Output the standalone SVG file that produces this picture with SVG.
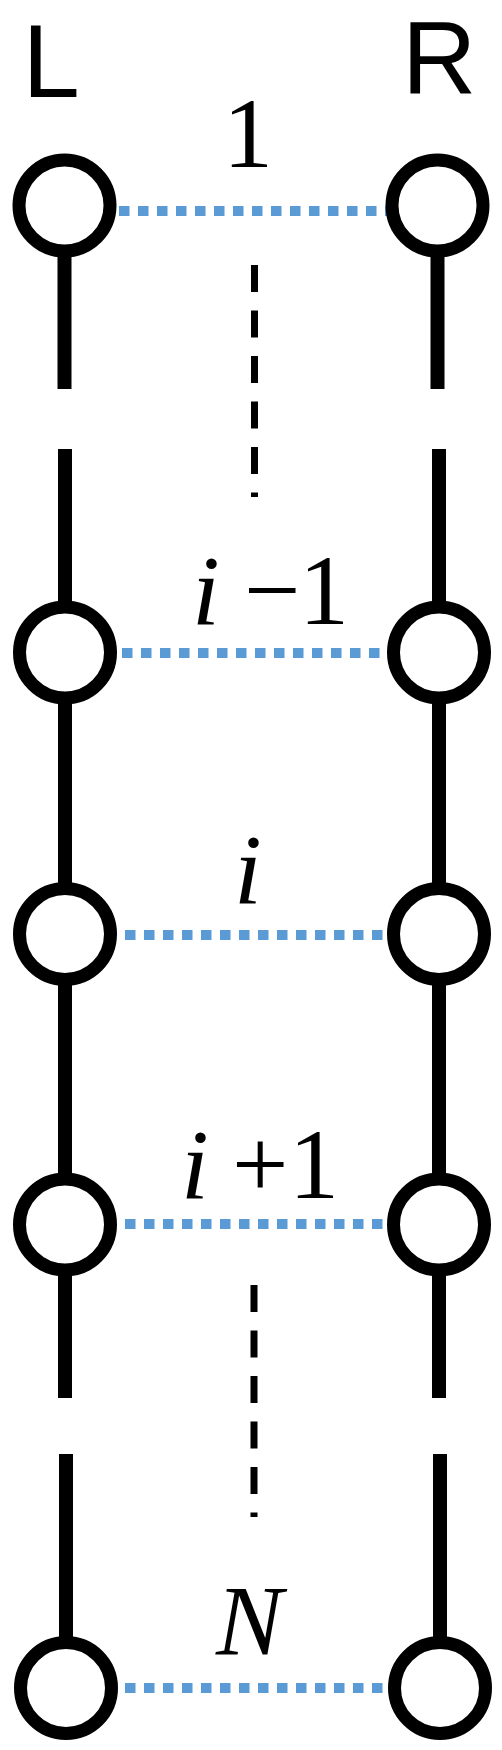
<svg xmlns="http://www.w3.org/2000/svg" width="502" height="1750" viewBox="0 0 502 1750">
<style>
.rail{stroke:#000;stroke-width:14;fill:none}
.link{stroke:#5B9BD5;stroke-width:10;stroke-dasharray:10.5 8.5;fill:none}
.dots{stroke:#000;stroke-width:7;stroke-dasharray:27 18.5;fill:none}
.node{fill:#fff;stroke:#000;stroke-width:13}
</style>
<rect width="502" height="1750" fill="#fff"/>
<g id="connectors">
<path class="rail" d="M64.5,205.5V389M65,449V1398M66,1454V1688"/>
<path class="rail" d="M437.5,205.5V389M439,449V1398M440,1454V1688"/>
<path class="dots" d="M254.5,265V497"/>
<path class="dots" d="M254,1285V1517"/>
<path class="link" d="M119,211H390"/>
<path class="link" d="M122,653H390"/>
<path class="link" d="M125,935H390"/>
<path class="link" d="M125,1224H390"/>
<path class="link" d="M125,1688H390"/>
</g>
<g id="node-L1"><circle class="node" cx="64.5" cy="205.5" r="45.5"/></g>
<g id="node-R1"><circle class="node" cx="437.5" cy="205.5" r="45.5"/></g>
<g id="node-Li-1"><circle class="node" cx="65" cy="652.5" r="45.5"/></g>
<g id="node-Ri-1"><circle class="node" cx="439" cy="652.5" r="45.5"/></g>
<g id="node-Li"><circle class="node" cx="65" cy="934" r="45.5"/></g>
<g id="node-Ri"><circle class="node" cx="439" cy="934" r="45.5"/></g>
<g id="node-Li+1"><circle class="node" cx="65" cy="1224.5" r="45.5"/></g>
<g id="node-Ri+1"><circle class="node" cx="439" cy="1224.5" r="45.5"/></g>
<g id="node-LN"><circle class="node" cx="66" cy="1688" r="45.5"/></g>
<g id="node-RN"><circle class="node" cx="440" cy="1688" r="45.5"/></g>
<g id="labels" fill="#000">
<g font-family="Liberation Sans, Arial, sans-serif" font-size="103">
<text x="22.5" y="97">L</text>
<text x="402" y="94">R</text>
</g>
<g font-family="Liberation Serif, Times New Roman, serif" font-size="100">
<text x="223" y="167">1</text>
<text y="624"><tspan font-style="italic" x="192">i</tspan><tspan x="244">−</tspan><tspan x="299">1</tspan></text>
<text font-style="italic" x="234" y="903">i</text>
<text y="1198"><tspan font-style="italic" x="181">i</tspan><tspan x="232">+</tspan><tspan x="289">1</tspan></text>
<text font-style="italic" x="216" y="1654">N</text>
</g>
</g>
</svg>
